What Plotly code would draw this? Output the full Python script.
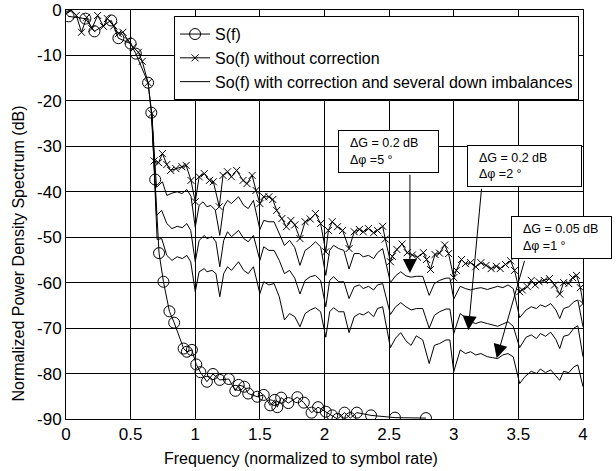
import plotly.graph_objects as go

# ---------------- data ----------------
freq_ticks = [0, 0.5, 1, 1.5, 2, 2.5, 3, 3.5, 4]
freq_tick_labels = ["0", "0.5", "1", "1.5", "2", "2.5", "3", "3.5", "4"]
db_ticks = [0, -10, -20, -30, -40, -50, -60, -70, -80, -90]
db_tick_labels = ["0", "-10", "-20", "-30", "-40", "-50", "-60", "-70", "-80", "-90"]

# S(f)
s_x = [0.02, 0.15, 0.22, 0.35, 0.405, 0.50, 0.54, 0.635, 0.66, 0.69, 0.72, 0.754, 0.80, 0.837,
       0.91, 0.935, 0.974, 1.008, 1.04, 1.09, 1.137, 1.19, 1.26, 1.31, 1.336, 1.38, 1.41, 1.48,
       1.53, 1.58, 1.615, 1.635, 1.665, 1.72, 1.79, 1.84, 1.90, 1.95, 2.01, 2.06, 2.10, 2.155,
       2.20, 2.25, 2.36, 2.545, 2.785]
s_y = [-1.4, -1.9, -4.7, -2.3, -6.2, -7.4, -9.6, -16.0, -22.6, -37.3, -53.5, -59.8, -66.3, -68.8,
       -74.5, -75.2, -74.8, -78.0, -79.7, -81.8, -80.1, -81.4, -81.2, -83.8, -82.5, -82.9, -84.4, -85.1,
       -84.7, -87.0, -85.8, -87.4, -85.3, -86.5, -85.2, -86.4, -88.6, -87.4, -88.4, -89.2, -90.0, -88.6,
       -89.8, -88.6, -89.2, -89.7, -89.8]

# So(f) without correction
so_x = [0.0, 0.04, 0.08, 0.12, 0.16, 0.20, 0.245, 0.29, 0.32, 0.37, 0.405, 0.44, 0.48, 0.52, 0.56,
        0.59, 0.635, 0.664, 0.682, 0.716, 0.746, 0.78, 0.81, 0.85, 0.897, 0.93, 0.967, 1.0, 1.03,
        1.07, 1.11, 1.14, 1.186, 1.215, 1.25, 1.28, 1.32, 1.37, 1.40, 1.44, 1.47, 1.50, 1.53, 1.57,
        1.60, 1.63, 1.67, 1.705, 1.74, 1.77, 1.81, 1.85, 1.89, 1.93, 1.97, 2.01, 2.03, 2.06, 2.10,
        2.14, 2.19, 2.23, 2.27, 2.30, 2.34, 2.38, 2.41, 2.45, 2.47, 2.51, 2.525, 2.56, 2.60, 2.64,
        2.68, 2.72, 2.765, 2.79, 2.82, 2.855, 2.89, 2.93, 2.96, 3.00, 3.02, 3.06, 3.09, 3.13, 3.17,
        3.21, 3.25, 3.29, 3.33, 3.36, 3.40, 3.44, 3.47, 3.51, 3.53, 3.57, 3.60, 3.63, 3.66, 3.70,
        3.74, 3.78, 3.82, 3.85, 3.89, 3.92, 3.95, 3.98, 4.0]
so_y = [-0.8, 0.0, -1.2, -4.9, -1.6, -4.1, -1.2, -3.6, -1.9, -3.5, -5.2, -4.9, -6.7, -8.2, -9.3,
        -11.3, -16.0, -22.8, -33.2, -33.6, -31.6, -34.0, -35.3, -34.9, -34.5, -34.2, -37.5, -42.2, -36.7,
        -36.0, -37.5, -37.8, -43.3, -36.4, -35.6, -36.7, -35.3, -37.5, -38.2, -36.4, -39.7, -42.6, -41.1, -41.1,
        -41.7, -44.1, -45.9, -47.7, -46.3, -47.3, -50.3, -46.6, -46.0, -44.8, -47.0, -53.2, -48.5, -46.6, -47.7,
        -48.5, -52.5, -48.8, -48.3, -48.8, -48.1, -49.0, -48.5, -47.6, -50.4, -55.4, -54.2, -52.7, -51.5, -53.4,
        -53.9, -54.4, -53.4, -54.9, -57.1, -53.8, -53.5, -51.7, -53.6, -58.9, -57.3, -54.9, -55.8, -55.6, -56.5,
        -55.6, -56.2, -56.9, -56.4, -56.9, -56.0, -55.2, -57.3, -62.0, -61.6, -60.9, -59.5, -60.5, -59.8, -59.5,
        -59.1, -60.5, -62.5, -60.0, -60.2, -58.9, -58.4, -61.1, -64.6]

# So(f) with correction: dG = 0.2 dB, dphi = 5 deg
c5_x = [0.664, 0.70, 0.746, 0.78, 0.82, 0.86, 0.897, 0.935, 0.967, 1.0, 1.03, 1.06, 1.09, 1.12, 1.155,
        1.19, 1.22, 1.25, 1.28, 1.335, 1.375, 1.41, 1.45, 1.50, 1.53, 1.57, 1.61, 1.65, 1.69, 1.73,
        1.77, 1.81, 1.85, 1.89, 1.93, 1.97, 2.01, 2.04, 2.07, 2.11, 2.15, 2.19, 2.23, 2.27, 2.30,
        2.34, 2.38, 2.41, 2.45, 2.51, 2.55, 2.59, 2.63, 2.67, 2.71, 2.76, 2.81, 2.85, 2.89, 2.94,
        2.97, 3.00, 3.05, 3.09, 3.13, 3.17, 3.21, 3.26, 3.30, 3.34, 3.38, 3.42, 3.46, 3.51, 3.56,
        3.60, 3.64, 3.67, 3.71, 3.75, 3.79, 3.82, 3.85, 3.89, 3.93, 3.96, 4.0]
c5_y = [-22.8, -39.0, -37.8, -40.8, -40.3, -40.0, -40.4, -39.5, -41.0, -47.8, -43.0, -42.2, -43.3, -43.0, -44.0,
        -49.6, -43.3, -41.9, -42.6, -41.1, -43.0, -43.7, -41.9, -48.3, -46.3, -46.6, -46.6, -49.2, -51.8, -50.7,
        -52.3, -56.2, -52.9, -52.1, -51.0, -52.1, -58.4, -52.9, -51.8, -52.5, -52.9, -57.0, -53.6, -53.6, -54.3,
        -54.0, -54.7, -53.4, -52.5, -60.0, -58.5, -57.6, -58.5, -58.8, -58.6, -58.6, -62.8, -60.2, -59.5, -59.0,
        -59.0, -63.6, -60.8, -61.3, -61.6, -61.3, -61.1, -61.5, -61.1, -60.8, -61.1, -60.5, -61.3, -67.7, -66.0,
        -65.3, -65.7, -64.9, -65.3, -64.6, -66.0, -67.9, -65.7, -65.3, -64.2, -63.8, -69.7]

# So(f) with correction: dG = 0.2 dB, dphi = 2 deg
c2_x = [0.664, 0.70, 0.74, 0.78, 0.82, 0.86, 0.90, 0.935, 0.965, 1.0, 1.03, 1.07, 1.09, 1.13, 1.16,
        1.19, 1.22, 1.25, 1.28, 1.335, 1.375, 1.41, 1.45, 1.50, 1.53, 1.57, 1.61, 1.65, 1.69, 1.73,
        1.77, 1.81, 1.85, 1.89, 1.93, 1.97, 2.01, 2.04, 2.07, 2.11, 2.15, 2.19, 2.23, 2.27, 2.30,
        2.34, 2.38, 2.41, 2.45, 2.51, 2.55, 2.59, 2.63, 2.67, 2.71, 2.76, 2.81, 2.85, 2.89, 2.94,
        2.97, 3.00, 3.05, 3.09, 3.13, 3.17, 3.21, 3.26, 3.30, 3.34, 3.38, 3.42, 3.46, 3.51, 3.56,
        3.60, 3.64, 3.67, 3.71, 3.75, 3.79, 3.82, 3.85, 3.89, 3.93, 3.96, 4.0]
c2_y = [-22.8, -45.2, -44.1, -47.0, -48.1, -47.6, -47.9, -47.0, -48.5, -55.4, -50.7, -49.6, -50.3, -49.9, -51.0,
        -56.5, -50.7, -48.8, -49.9, -48.5, -50.3, -51.0, -49.6, -55.1, -52.1, -52.9, -52.9, -55.1, -58.0, -57.3,
        -59.0, -62.5, -59.5, -58.7, -58.4, -59.5, -65.3, -59.5, -58.7, -59.8, -59.8, -63.5, -60.9, -60.5, -61.3,
        -60.8, -61.6, -60.5, -60.2, -67.0, -65.3, -64.4, -65.3, -66.0, -65.7, -65.7, -70.0, -67.2, -66.4, -65.8,
        -65.8, -71.2, -66.8, -67.8, -68.6, -69.0, -68.6, -69.0, -69.3, -69.6, -69.1, -68.6, -69.6, -74.3, -72.0,
        -71.5, -72.3, -71.2, -71.8, -70.9, -72.5, -74.5, -71.8, -71.5, -70.0, -69.5, -76.3]

# So(f) with correction: dG = 0.05 dB, dphi = 1 deg
c1_x = [0.664, 0.705, 0.74, 0.78, 0.82, 0.86, 0.90, 0.935, 0.965, 1.0, 1.03, 1.07, 1.09, 1.13, 1.16,
        1.19, 1.22, 1.25, 1.28, 1.335, 1.375, 1.41, 1.45, 1.50, 1.53, 1.57, 1.61, 1.65, 1.69, 1.73,
        1.77, 1.81, 1.85, 1.89, 1.93, 1.97, 2.01, 2.04, 2.07, 2.11, 2.15, 2.19, 2.23, 2.27, 2.30,
        2.34, 2.38, 2.41, 2.45, 2.51, 2.55, 2.59, 2.63, 2.67, 2.71, 2.76, 2.81, 2.85, 2.89, 2.94,
        2.97, 3.00, 3.05, 3.09, 3.13, 3.17, 3.21, 3.26, 3.30, 3.34, 3.38, 3.42, 3.46, 3.51, 3.55,
        3.60, 3.64, 3.67, 3.71, 3.75, 3.79, 3.82, 3.85, 3.89, 3.93, 3.96, 4.0]
c1_y = [-22.8, -50.5, -50.3, -54.0, -55.1, -54.3, -54.7, -54.0, -55.4, -62.0, -57.6, -56.9, -57.6, -57.3, -58.0,
        -63.1, -58.0, -56.5, -57.3, -55.4, -57.3, -58.0, -56.5, -62.4, -59.8, -60.5, -60.2, -63.1, -68.2, -66.8,
        -67.5, -69.7, -66.8, -66.0, -65.5, -66.4, -72.0, -66.4, -65.5, -66.4, -66.4, -71.0, -67.5, -66.8, -67.1,
        -66.4, -67.5, -65.7, -65.3, -74.3, -72.2, -71.0, -72.8, -73.8, -71.7, -72.6, -77.8, -73.8, -73.4, -72.6,
        -72.6, -79.6, -74.8, -75.6, -75.2, -75.9, -75.6, -76.3, -76.5, -76.7, -75.9, -75.6, -76.3, -82.2, -80.7,
        -79.5, -80.0, -79.0, -79.8, -79.2, -80.5, -81.5, -79.5, -79.8, -78.5, -78.1, -82.9]

for a, b in [(s_x, s_y), (so_x, so_y), (c5_x, c5_y), (c2_x, c2_y), (c1_x, c1_y)]:
    assert len(a) == len(b), (len(a), len(b))

# ---------------- figure ----------------
FONT = "Liberation Sans, Arial, sans-serif"
fig = go.Figure()

corr_name = "So(f) with correction and several down imbalances"
for i, (cx, cy) in enumerate([(c5_x, c5_y), (c2_x, c2_y), (c1_x, c1_y)]):
    fig.add_trace(go.Scatter(x=cx, y=cy, mode="lines", name=corr_name,
                             legendgroup="corr", showlegend=(i == 0), legendrank=3,
                             line=dict(color="black", width=1)))

fig.add_trace(go.Scatter(x=so_x, y=so_y, mode="lines+markers", name="So(f) without correction",
                         legendrank=2,
                         line=dict(color="black", width=1),
                         marker=dict(symbol="x-thin", size=7, color="black",
                                     line=dict(color="black", width=1))))

fig.add_trace(go.Scatter(x=s_x, y=s_y, mode="lines+markers", name="S(f)", legendrank=1,
                         line=dict(color="black", width=1),
                         marker=dict(symbol="circle-open", size=11, color="black",
                                     line=dict(color="black", width=1))))

axis_common = dict(showgrid=True, gridcolor="black", gridwidth=1, zeroline=False,
                   showline=True, linecolor="black", linewidth=1, mirror=True,
                   automargin=False,
                   ticks="", tickfont=dict(family=FONT, size=17, color="black"))

fig.update_xaxes(range=[0, 4], tickvals=freq_ticks, ticktext=freq_tick_labels, **axis_common)
fig.update_yaxes(range=[-90, 0], tickvals=db_ticks, ticktext=db_tick_labels, **axis_common)

fig.update_layout(
    template="none",
    width=616, height=471,
    margin=dict(l=66, r=33, t=10, b=52, autoexpand=False),
    paper_bgcolor="white", plot_bgcolor="white",
    font=dict(family=FONT, color="black"),
    hovermode=False,
    legend=dict(x=0.209, y=0.985, xanchor="left", yanchor="top",
                bgcolor="white", bordercolor="black", borderwidth=1,
                font=dict(family=FONT, size=16, color="black"),
                traceorder="normal"),
)

# axis titles
fig.add_annotation(text="Frequency (normalized to symbol rate)", xref="paper", yref="paper",
                   x=0.4555, y=-0.0954, xanchor="center", yanchor="middle", showarrow=False,
                   font=dict(family=FONT, size=16, color="black"))
fig.add_annotation(text="Normalized Power Density Spectrum (dB)", xref="paper", yref="paper",
                   x=-0.0928, y=0.4046, xanchor="center", yanchor="middle", showarrow=False,
                   textangle=-90, font=dict(family=FONT, size=16, color="black"))

# annotation boxes
NB = "\u00a0\u00a0"
boxes = [
    (2.104, -26.41, 91, 33, NB + "ΔG = 0.2 dB<br>" + NB + "Δφ =5 °"),
    (3.100, -29.71, 105, 32, NB + "ΔG = 0.2 dB<br>" + NB + "Δφ =2 °"),
    (3.443, -45.33, 91, 33, NB + "ΔG = 0.05 dB<br>" + NB + "Δφ =1 °"),
]
for bx, by, bw, bh, txt in boxes:
    fig.add_annotation(text=txt, xref="x", yref="y", x=bx, y=by, xanchor="left", yanchor="top",
                       showarrow=False, align="left", valign="middle", width=bw, height=bh,
                       bgcolor="white", bordercolor="black", borderwidth=1, borderpad=4,
                       font=dict(family=FONT, size=12.5, color="black"))

arrows = [
    (2.661, -57.87, 2.661, -35.93),
    (3.113, -70.41, 3.216, -39.01),
    (3.332, -76.64, 3.551, -54.86),
]
for tx, ty, sx, sy in arrows:
    fig.add_annotation(text="", xref="x", yref="y", x=tx, y=ty, axref="x", ayref="y", ax=sx, ay=sy,
                       showarrow=True, arrowhead=2, arrowsize=2.8, arrowwidth=1,
                       arrowcolor="black", standoff=0)

fig.write_html("out.html", config={"displayModeBar": False, "staticPlot": True},
               post_script="document.body.style.margin='0';document.body.style.overflow='hidden';")
